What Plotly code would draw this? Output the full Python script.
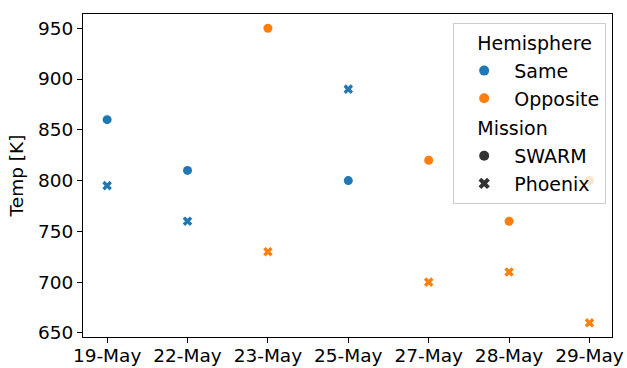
import plotly.graph_objects as go

# Observation dates (categorical x axis)
dates = ["19-May", "22-May", "23-May", "25-May", "27-May", "28-May", "29-May"]
hemisphere = ["Same", "Same", "Opposite", "Same", "Opposite", "Opposite", "Opposite"]

# Temperatures per mission [K]
swarm_temp = [860, 810, 950, 800, 820, 760, 800]
phoenix_temp = [795, 760, 730, 890, 700, 710, 660]

hemi_colors = {"Same": "#1f77b4", "Opposite": "#ff7f0e"}
mission_symbols = {"SWARM": "circle", "Phoenix": "x"}
font_family = "DejaVu Sans"
pad = "\u00a0\u00a0\u00a0"

fig = go.Figure()

# Data points: one trace per hemisphere/mission combination
for mission, temps in (("SWARM", swarm_temp), ("Phoenix", phoenix_temp)):
    for hemi in ("Same", "Opposite"):
        xs = [d for d, h in zip(dates, hemisphere) if h == hemi]
        ys = [t for t, h in zip(temps, hemisphere) if h == hemi]
        fig.add_trace(go.Scatter(
            x=xs, y=ys, mode="markers", showlegend=False,
            marker=dict(color=hemi_colors[hemi], symbol=mission_symbols[mission],
                        size=9 if mission == "SWARM" else 8.5,
                        line=dict(width=0)),
        ))

# Legend entries (hue section and style section)
for i, hemi in enumerate(("Same", "Opposite")):
    fig.add_trace(go.Scatter(
        x=[None], y=[None], mode="markers", name=hemi,
        legendgroup="hemi", legendgrouptitle=dict(text=pad + "Hemisphere") if i == 0 else None,
        marker=dict(color=hemi_colors[hemi], symbol="circle", size=10),
    ))
for i, mission in enumerate(("SWARM", "Phoenix")):
    fig.add_trace(go.Scatter(
        x=[None], y=[None], mode="markers", name=mission,
        legendgroup="mission", legendgrouptitle=dict(text=pad + "Mission") if i == 0 else None,
        marker=dict(color="#333333", symbol=mission_symbols[mission], size=10),
    ))

fig.update_layout(
    width=627, height=368,
    margin=dict(l=83, r=15, t=14, b=31),
    paper_bgcolor="white", plot_bgcolor="white",
    font=dict(family=font_family, size=18.5, color="black"),
    legend=dict(
        x=0.989, y=0.972, xanchor="right", yanchor="top",
        bgcolor="rgba(255,255,255,0.8)", bordercolor="#cccccc", borderwidth=1,
        tracegroupgap=2, font=dict(size=19), itemwidth=50,
        grouptitlefont=dict(size=19),
    ),
)
fig.update_xaxes(
    type="category", categoryorder="array", categoryarray=dates,
    range=[-0.3, 6.28], automargin=False, ticklabelstandoff=-3,
    showline=True, linecolor="black", linewidth=1, mirror=True,
    ticks="outside", ticklen=5, tickcolor="black", showgrid=False, zeroline=False,
)
fig.update_yaxes(
    range=[646, 964], tickvals=[650, 700, 750, 800, 850, 900, 950], automargin=False,
    showline=True, linecolor="black", linewidth=1, mirror=True,
    ticks="outside", ticklen=5, tickcolor="black", showgrid=False, zeroline=False,
)

# Y-axis label, placed left of the tick labels
fig.add_annotation(
    text="Temp [K]", textangle=-90, showarrow=False,
    xref="paper", yref="paper", x=-0.125, y=0.5,
    xanchor="center", yanchor="middle",
    font=dict(family=font_family, size=18.5, color="black"),
)

fig.write_html("out.html")
